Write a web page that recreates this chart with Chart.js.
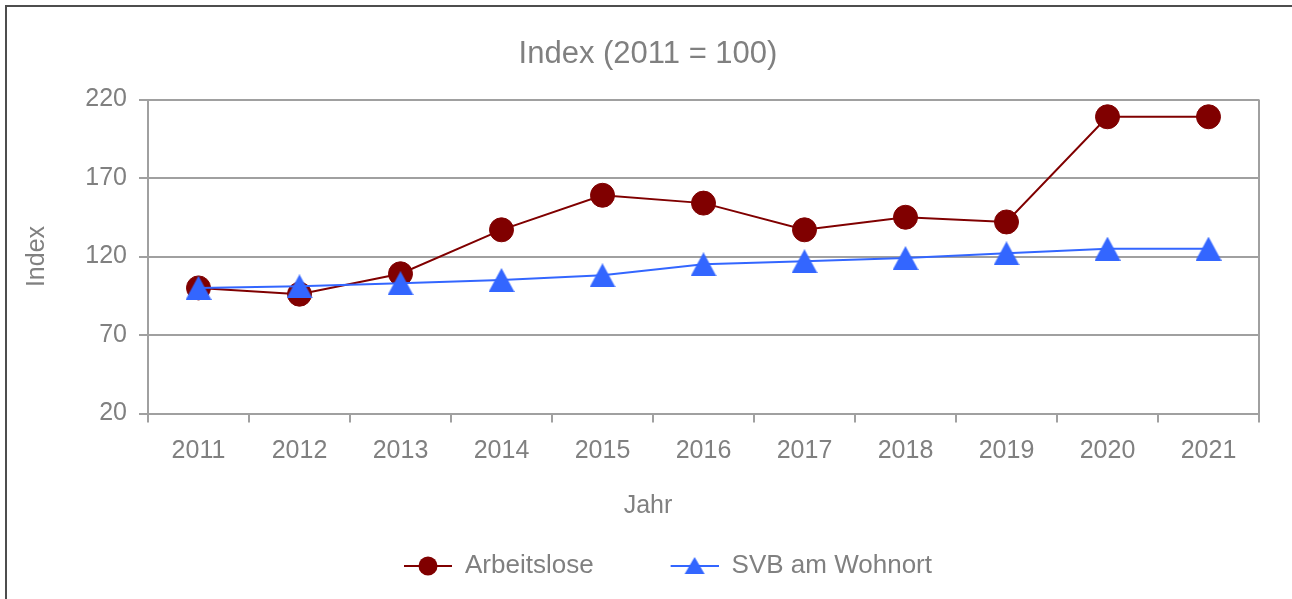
<!DOCTYPE html>
<html>
<head>
<meta charset="utf-8">
<script src="https://cdn.jsdelivr.net/npm/chart.js@4/dist/chart.umd.min.js"></script>
<style>
  html, body { margin: 0; padding: 0; background: #fff; overflow: hidden; }
  #wrap { position: relative; width: 1292px; height: 599px; }
  #frame { position: absolute; left: 5px; top: 5px; width: 1300px; height: 700px; border: 2px solid #4d4d4d; pointer-events: none; }
</style>
</head>
<body>
<div id="wrap">
  <canvas id="indexChart" width="1292" height="599"></canvas>
  <div id="frame"></div>
</div>
<script>
// Index (2011 = 100) – Arbeitslose vs. SVB am Wohnort
const years = ['2011', '2012', '2013', '2014', '2015', '2016', '2017', '2018', '2019', '2020', '2021'];
const arbeitslose = [100, 96, 109, 137, 159, 154, 137, 145, 142, 209, 209];
const svbWohnort = [100, 101, 103, 105, 108, 115, 117, 119, 122, 125, 125];
const yTicks = [20, 70, 120, 170, 220];

const font = "'Liberation Sans', Arial, sans-serif";
const textColor = '#808080';
const gridColor = '#a0a0a0';
const red = '#800000';
const blue = '#3366ff';

// triangle marker as a small canvas so it sits centred on the line
function triangleImg(w, h, color) {
  const c = document.createElement('canvas');
  c.width = w; c.height = h;
  const g = c.getContext('2d');
  g.fillStyle = color;
  g.beginPath();
  g.moveTo(w / 2, 0); g.lineTo(w, h); g.lineTo(0, h);
  g.closePath();
  g.fill();
  return c;
}

// legend sample: short line with marker, drawn in the right part of the box
function legendImg(color, marker) {
  const c = document.createElement('canvas');
  c.width = 88; c.height = 26;
  const g = c.getContext('2d');
  g.strokeStyle = color; g.lineWidth = 2;
  g.beginPath(); g.moveTo(40, 13); g.lineTo(88, 13); g.stroke();
  g.fillStyle = color;
  g.beginPath();
  if (marker === 'circle') {
    g.arc(64, 13, 9.5, 0, Math.PI * 2);
  } else {
    g.moveTo(64, 4); g.lineTo(74, 21); g.lineTo(54, 21); g.closePath();
  }
  g.fill();
  return c;
}

const triangle = triangleImg(26, 24, blue);
const legendMarks = [legendImg(red, 'circle'), legendImg(blue, 'triangle')];

const plotFrame = {
  id: 'plotFrame',
  beforeDatasetsDraw(chart) {
    const {ctx, chartArea: a} = chart;
    ctx.save();
    ctx.strokeStyle = gridColor;
    ctx.lineWidth = 2;
    ctx.beginPath();
    ctx.moveTo(a.right, a.top);
    ctx.lineTo(a.right, a.bottom);
    ctx.stroke();
    ctx.restore();
  }
};

const ctx = document.getElementById('indexChart').getContext('2d');
new Chart(ctx, {
  type: 'line',
  data: {
    labels: years,
    datasets: [{
      label: 'Arbeitslose',
      data: arbeitslose,
      borderColor: red,
      backgroundColor: red,
      borderWidth: 2,
      pointStyle: 'circle',
      pointRadius: 12,
      pointBorderWidth: 1,
      order: 2
    }, {
      label: 'SVB am Wohnort',
      data: svbWohnort,
      borderColor: blue,
      backgroundColor: blue,
      borderWidth: 2,
      pointStyle: triangle,
      pointRadius: 12,
      order: 1
    }]
  },
  options: {
    responsive: false,
    animation: false,
    events: [],
    layout: { padding: { left: 37, right: 33, top: 0, bottom: 10 } },
    plugins: {
      title: {
        display: true,
        text: 'Index (2011 = 100)',
        color: textColor,
        font: { family: font, size: 31, weight: 'normal' },
        padding: { top: 35.5, bottom: 26.8 }
      },
      // x axis title, centred on the whole frame like the original
      subtitle: {
        display: true,
        position: 'bottom',
        weight: 500,
        text: 'Jahr',
        color: textColor,
        font: { family: font, size: 25, weight: 'normal' },
        padding: { top: 27.5, bottom: -5 }
      },
      legend: {
        position: 'bottom',
        labels: {
          usePointStyle: true,
          pointStyleWidth: 88,
          padding: 37,
          color: textColor,
          font: { family: font, size: 26 },
          generateLabels: chart => chart.data.datasets.map((ds, i) => ({
            text: ds.label,
            pointStyle: legendMarks[i],
            fillStyle: ds.backgroundColor,
            strokeStyle: ds.borderColor,
            lineWidth: 0,
            fontColor: textColor,
            hidden: false,
            datasetIndex: i
          }))
        }
      },
      tooltip: { enabled: false }
    },
    scales: {
      x: {
        offset: true,
        afterFit: s => { s.height = 50; },
        grid: { offset: true, drawOnChartArea: false, tickLength: 9, color: gridColor, lineWidth: 2 },
        border: { color: gridColor, width: 2 },
        ticks: { color: textColor, padding: 14, maxRotation: 0, font: { family: font, size: 25 } }
      },
      y: {
        min: yTicks[0],
        max: yTicks[yTicks.length - 1],
        afterFit: s => { s.width = 111; },
        afterBuildTicks: s => { s.ticks = yTicks.map(v => ({ value: v })); },
        grid: { tickLength: 9, color: gridColor, lineWidth: 2 },
        border: { color: gridColor, width: 2 },
        ticks: { color: textColor, padding: 12, font: { family: font, size: 25 } },
        title: {
          display: true, text: 'Index', color: textColor,
          font: { family: font, size: 25 }, padding: { top: -15, bottom: 0 }
        }
      }
    }
  },
  plugins: [plotFrame]
});
</script>
</body>
</html>
